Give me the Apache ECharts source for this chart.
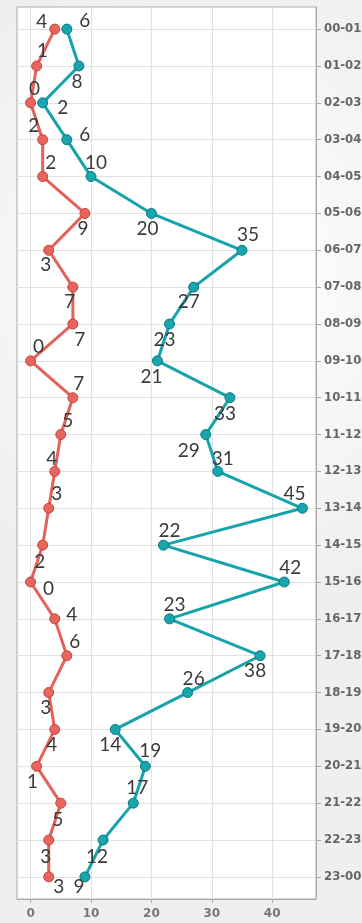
<!DOCTYPE html>
<html><head><meta charset="utf-8">
<script src="https://cdn.jsdelivr.net/npm/echarts@6/dist/echarts.min.js"></script>
<style>html,body{margin:0;padding:0;background:#fff}#c{width:362px;height:923px}</style>
</head><body><div id="c"></div>
<script>
const categories = ['00-01','01-02','02-03','03-04','04-05','05-06','06-07','07-08','08-09','09-10','10-11','11-12','12-13','13-14','14-15','15-16','16-17','17-18','18-19','19-20','20-21','21-22','22-23','23-00'];
const redValues = [4,1,0,2,2,9,3,7,7,0,7,5,4,3,2,0,4,6,3,4,1,5,3,3];
const tealValues = [6,8,2,6,10,20,35,27,23,21,33,29,31,45,22,42,23,38,26,14,19,17,12,9];
const xTickLabels = [0,10,20,30,40];

// label placement (style only)
const redLabelOffsets = [[-13,-7],[6,-15],[4,-14],[-9,-14],[8,-14],[-2,15],[-3,15],[-3,15],[7,16],[8,-14],[6,-14],[7,-14],[-3,-13],[8,-14],[-3,17],[18,7],[17,-4],[8,-14],[-3,15],[-3,15],[-4,16],[-3,17],[-3,17],[10,10]];
const tealLabelOffsets = [[18,-8],[-2,16],[20,5],[18,-5],[5,-14],[-4,15],[6,-15],[-5,15],[-5,16],[-6,16],[-5,16],[-17,16],[5,-13],[-8,-14],[6,-14],[6,-14],[5,-14],[-5,15],[6,-14],[-5,15],[5,-15],[4,-15],[-6,17],[-6,10]];

function build(values, offsets) {
  return values.map((v, i) => ({ value: [v, i], label: { offset: offsets[i] } }));
}
const catIndex = categories.map((c, i) => i);

const chart = echarts.init(document.getElementById('c'), null, { renderer: 'canvas' });
const labelStyle = { show: true, position: 'inside', align: 'center', verticalAlign: 'middle',
  color: '#3a3a3a', fontFamily: 'Lato', fontSize: 19, formatter: p => p.value[0] };

chart.setOption({
  animation: false,
  backgroundColor: { type: 'radial', x: 0.6, y: 0.3, r: 0.9,
    colorStops: [{ offset: 0, color: '#ffffff' }, { offset: 1, color: '#efefef' }] },
  grid: { left: 17, right: 46, top: 7, bottom: 24, containLabel: false, outerBoundsMode: 'none',
    show: true, backgroundColor: '#ffffff', borderColor: '#aaaaaa', borderWidth: 1 },
  xAxis: {
    type: 'value', min: -2.25, max: 47.25, minInterval: 5, maxInterval: 5,
    axisLine: { show: true, onZero: false, lineStyle: { color: '#aaaaaa' } },
    axisTick: { show: true, length: 4, customValues: xTickLabels, lineStyle: { color: '#aaaaaa' } },
    splitLine: { show: true, lineStyle: { color: '#e2e2e2' } },
    axisLabel: { margin: 9, color: '#777', fontFamily: 'DejaVu Sans', fontWeight: 'bold', fontSize: 12,
      customValues: xTickLabels }
  },
  yAxis: {
    type: 'value', inverse: true, position: 'right', min: -0.6, max: 23.6, minInterval: 1, maxInterval: 1,
    axisLine: { show: true, onZero: false, lineStyle: { color: '#aaaaaa' } },
    axisTick: { show: true, length: 5, customValues: catIndex, lineStyle: { color: '#aaaaaa' } },
    splitLine: { show: true, lineStyle: { color: '#e2e2e2' } },
    axisLabel: { margin: 8, color: '#666', fontFamily: 'DejaVu Sans', fontWeight: 'bold', fontSize: 11.7,
      customValues: catIndex, formatter: v => categories[v] }
  },
  series: [
    { type: 'line', data: build(redValues, redLabelOffsets), symbol: 'circle', symbolSize: 10,
      lineStyle: { width: 3, color: '#e3625a' },
      itemStyle: { color: '#e8655d', borderColor: '#c4463f', borderWidth: 1 },
      label: labelStyle },
    { type: 'line', data: build(tealValues, tealLabelOffsets), symbol: 'circle', symbolSize: 10,
      lineStyle: { width: 3, color: '#17a3ac' },
      itemStyle: { color: '#19a5ae', borderColor: '#0b7a82', borderWidth: 1 },
      label: labelStyle }
  ]
});
</script></body></html>
